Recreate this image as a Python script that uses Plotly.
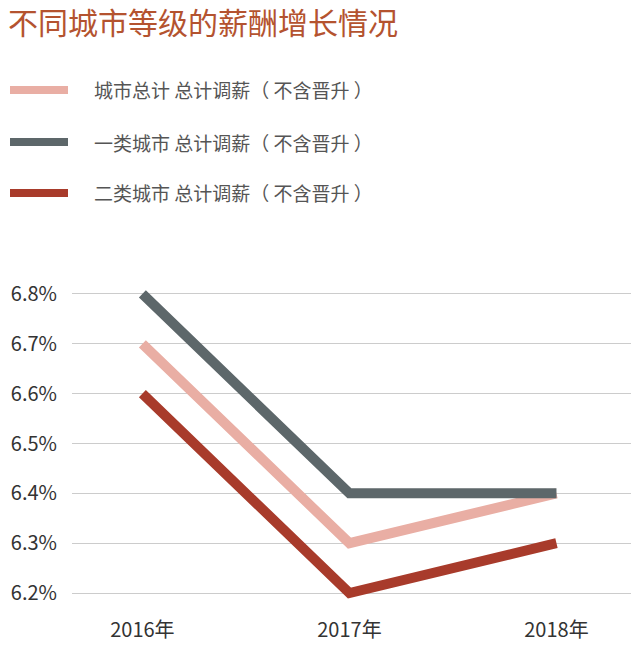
import plotly.graph_objects as go

years = ["2016年", "2017年", "2018年"]
series_names = [
    "城市总计 总计调薪（ 不含晋升 ）",
    "一类城市 总计调薪（ 不含晋升 ）",
    "二类城市 总计调薪（ 不含晋升 ）",
]
total_city = [6.7, 6.3, 6.4]
tier1_city = [6.8, 6.4, 6.4]
tier2_city = [6.6, 6.2, 6.3]
colors = ["#E9AEA4", "#5D676A", "#A83B2B"]
y_ticks = [6.2, 6.3, 6.4, 6.5, 6.6, 6.7, 6.8]
y_tick_labels = [f"{v:.1f}%" for v in y_ticks]

FONT = "Noto Sans CJK SC"
fig = go.Figure()
for name, vals, col in zip(series_names, [total_city, tier1_city, tier2_city], colors):
    fig.add_trace(go.Scatter(x=years, y=vals, mode="lines", name=name,
                             line=dict(color=col, width=10), showlegend=False))

# legend swatches + labels
leg_y = [90, 142, 193]
for name, col, yy in zip(series_names, colors, leg_y):
    fig.add_shape(type="line", xref="paper", yref="paper",
                  x0=(10 - 72) / 559, x1=(68 - 72) / 559,
                  y0=(608 - yy) / 329, y1=(608 - yy) / 329,
                  line=dict(color=col, width=8))
    fig.add_annotation(text=name, xref="paper", yref="paper",
                       x=(92 - 72) / 559, y=(608 - yy) / 329,
                       xanchor="left", yanchor="middle", showarrow=False,
                       font=dict(family=FONT, size=19, color="#555555"))

fig.add_annotation(text="不同城市等级的薪酬增长情况", xref="paper", yref="paper",
                   x=(6 - 72) / 559, y=(608 - 21) / 329, xanchor="left", yanchor="middle",
                   showarrow=False, font=dict(family=FONT, size=30, color="#B4532F"))

fig.update_layout(
    width=640, height=654,
    margin=dict(l=72, r=9, t=279, b=46),
    paper_bgcolor="white", plot_bgcolor="white",
    font=dict(family=FONT, size=18, color="#333333"),
    xaxis=dict(type="category", range=[-0.34, 2.36], showgrid=False, zeroline=False,
               showline=False, ticks="", tickfont=dict(size=20, color="#333333"),
               ticklabelstandoff=8),
    yaxis=dict(range=[6.17, 6.83], tickvals=y_ticks, ticktext=y_tick_labels,
               showgrid=True, gridcolor="#CCCCCC", gridwidth=1, zeroline=False,
               showline=False, ticks="", tickfont=dict(size=20, color="#333333"),
               ticklabelstandoff=14),
)
fig.write_html("out.html")
